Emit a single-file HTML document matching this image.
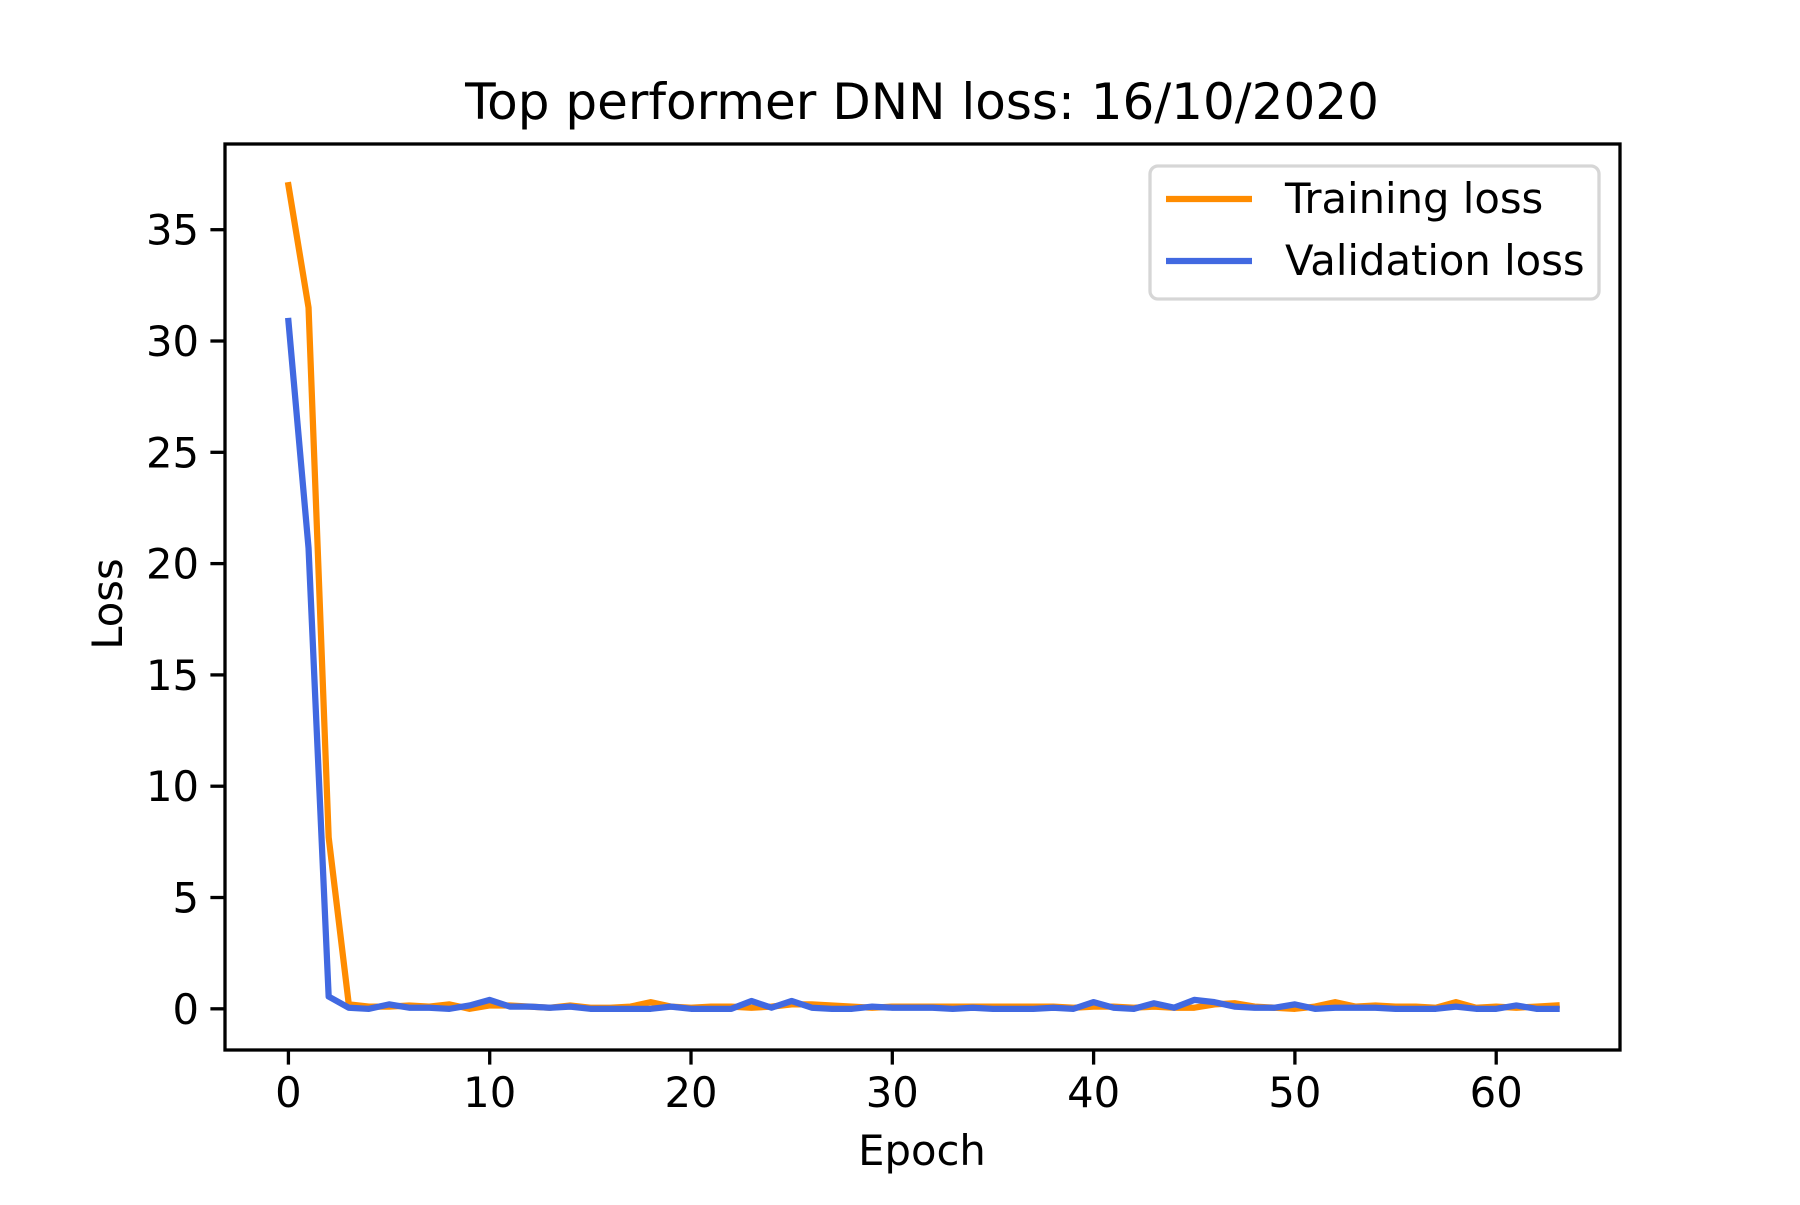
<!DOCTYPE html>
<html><head><meta charset="utf-8"><style>
body{margin:0;background:#fff}
svg text{font-family:"DejaVu Sans","Liberation Sans",sans-serif;fill:#000}
</style></head><body>
<svg id="chart" width="1800" height="1200" viewBox="0 0 1800 1200" xmlns="http://www.w3.org/2000/svg">
<rect width="1800" height="1200" fill="#fff"/>
<text x="922" y="119" font-size="50" text-anchor="middle">Top performer DNN loss: 16/10/2020</text>
<g id="plot"></g>
<rect x="225" y="144" width="1395" height="906" fill="none" stroke="#000" stroke-width="3.3"/>
<text x="922" y="1165" font-size="41.7" text-anchor="middle">Epoch</text>
<text transform="translate(122,604) rotate(-90)" font-size="41.7" text-anchor="middle">Loss</text>
<g>
<rect x="1150" y="166" width="449" height="133" rx="8" fill="#fff" fill-opacity="0.8" stroke="#d6d6d6" stroke-width="3.3"/>
<line x1="1166" y1="199" x2="1252" y2="199" stroke="#ff8c00" stroke-width="6.25"/>
<text x="1285" y="213" font-size="41.7">Training loss</text>
<line x1="1166" y1="261" x2="1252" y2="261" stroke="#4169e1" stroke-width="6.25"/>
<text x="1285" y="275" font-size="41.7">Validation loss</text>
</g>
</svg>
<script>
const trainLoss=[37,31.5,7.7,0.2,0.1,0.1,0.15,0.1,0.2,0.0,0.15,0.15,0.1,0.05,0.15,0.05,0.05,0.1,0.3,0.1,0.05,0.1,0.1,0.05,0.1,0.2,0.2,0.15,0.1,0.05,0.1,0.1,0.1,0.1,0.1,0.1,0.1,0.1,0.1,0.05,0.1,0.1,0.05,0.1,0.05,0.05,0.2,0.25,0.1,0.05,0.0,0.1,0.3,0.1,0.15,0.1,0.1,0.05,0.3,0.05,0.1,0.05,0.1,0.15];
const valLoss=[30.9,20.7,0.55,0.05,0.0,0.2,0.05,0.05,0.0,0.15,0.4,0.1,0.1,0.05,0.1,0.0,0.0,0.0,0.0,0.1,0.0,0.0,0.0,0.35,0.05,0.35,0.05,0.0,0.0,0.1,0.05,0.05,0.05,0.0,0.05,0.0,0.0,0.0,0.05,0.0,0.3,0.05,0.0,0.25,0.05,0.4,0.3,0.1,0.05,0.05,0.2,0.0,0.05,0.05,0.05,0.0,0.0,0.0,0.1,0.0,0.0,0.15,0.0,0.0];
const xTicks=[0,10,20,30,40,50,60];
const yTicks=[0,5,10,15,20,25,30,35];
const NS='http://www.w3.org/2000/svg';
const L=225,R=1620,T=144,B=1050;
const n=trainLoss.length;
const xmin=-0.05*(n-1),xmax=(n-1)*1.05;
const all=trainLoss.concat(valLoss);
const dmin=Math.min(...all),dmax=Math.max(...all);
const ymin=dmin-0.05*(dmax-dmin),ymax=dmax+0.05*(dmax-dmin);
const xs=v=>L+(v-xmin)/(xmax-xmin)*(R-L);
const ys=v=>B-(v-ymin)/(ymax-ymin)*(B-T);
const g=document.getElementById('plot');
function mk(tag,attrs){const e=document.createElementNS(NS,tag);for(const k in attrs)e.setAttribute(k,attrs[k]);return e;}
xTicks.forEach(t=>{
  const ln=mk('line',{x1:xs(t),x2:xs(t),y1:B,y2:B+14.6,stroke:'#000','stroke-width':3.3});
  
  
  g.appendChild(ln);
  const tx=mk('text',{x:xs(t),y:B+57,'font-size':41.7,'text-anchor':'middle'});
  tx.textContent=t;
  
  
  g.appendChild(tx);
});
yTicks.forEach(t=>{
  const ln=mk('line',{x1:L-14.6,x2:L,y1:ys(t),y2:ys(t),stroke:'#000','stroke-width':3.3});
  
  
  g.appendChild(ln);
  const tx=mk('text',{x:L-26,y:ys(t)+15,'font-size':41.7,'text-anchor':'end'});
  tx.textContent=t;
  
  
  g.appendChild(tx);
});
function series(arr,color,name){
  const p=mk('polyline',{points:arr.map((v,i)=>xs(i)+','+ys(v)).join(' '),fill:'none',stroke:color,'stroke-width':6.25,'stroke-linejoin':'round','stroke-linecap':'square'});
  
  
  g.appendChild(p);
}
series(trainLoss,'#ff8c00','training-loss-line');
series(valLoss,'#4169e1','validation-loss-line');
</script>
</body></html>
